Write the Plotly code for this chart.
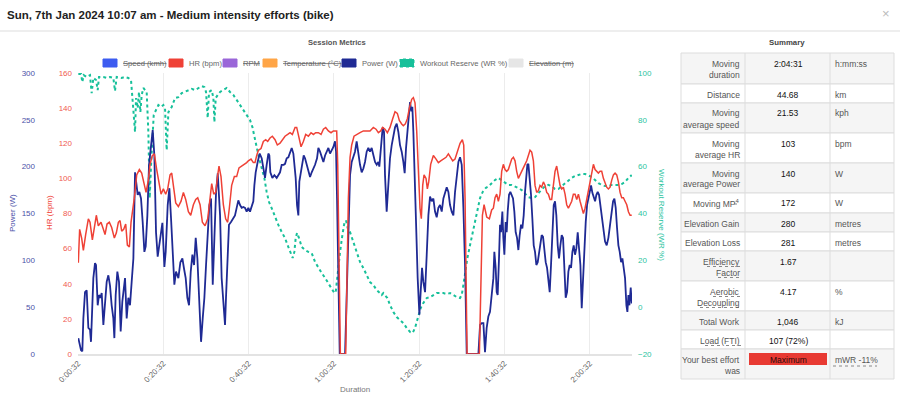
import plotly.graph_objects as go

# ---------------- data ----------------
power_time = [0.61,1.24,1.55,1.79,2.18,2.57,2.96,3.35,3.58,4.13,4.52,4.76,5.15,5.46,5.77,6.09,6.48,6.87,7.26,7.65,
              8.04,8.43,8.82,9.06,9.37,9.76,10.15,10.54,10.93,11.56,11.95,12.34,12.73,13.12,13.52,13.91,14.53,14.92,15.31,15.70,
              16.10,16.41,16.80,17.19,17.66,18.05,18.44,18.83,19.22,19.77,20.32,20.79,21.10,21.57,21.96,22.35,22.74,23.13,23.52,24.07,
              24.54,25.01,25.40,25.79,26.18,26.57,26.97,27.36,27.75,28.14,28.53,28.92,29.39,29.78,30.17,30.56,30.95,31.34,31.73,32.13,
              32.52,32.91,33.30,33.85,34.22,35.01,35.24,35.63,35.94,36.41,36.96,37.35,37.74,38.13,38.53,38.92,39.31,39.70,40.09,40.48,
              40.87,41.26,41.65,41.89,42.20,42.67,43.14,43.61,44.08,44.39,44.78,45.17,45.41,45.64,46.11,46.58,47.13,47.52,47.91,48.30,
              48.77,49.08,49.47,49.86,50.33,50.65,51.04,51.27,51.58,51.90,52.21,52.44,52.76,53.15,53.46,53.77,54.17,54.56,54.95,55.34,
              55.73,56.12,56.59,56.90,57.29,57.68,58.08,58.47,58.86,59.25,59.64,60.03,60.42,60.81,61.05,61.28,61.59,61.91,63.16,63.55,
              63.94,64.33,64.72,65.49,65.88,66.28,66.67,67.06,67.45,67.84,68.23,68.62,69.01,69.40,69.79,70.19,70.58,70.97,71.20,71.59,
              71.98,72.30,72.53,72.92,73.31,73.70,74.10,74.49,74.88,75.27,75.66,76.05,76.44,76.83,77.14,77.46,77.77,78.08,78.40,78.71,
              78.94,79.18,79.49,79.80,80.19,80.59,80.90,81.21,81.52,81.92,82.31,82.70,83.09,83.48,83.87,84.26,84.65,85.04,85.43,85.83,
              86.22,86.61,87.00,87.39,87.78,88.17,88.56,88.95,89.34,89.74,90.13,90.52,90.91,91.30,91.69,94.43,94.82,95.21,95.60,95.98,
              96.37,96.76,97.15,97.54,97.94,98.17,98.48,98.72,98.95,99.26,99.50,99.73,100.05,100.28,100.52,100.83,101.06,101.30,101.61,101.92,
              102.24,102.55,102.86,103.17,103.49,103.80,104.11,104.43,104.74,105.05,105.36,105.68,105.91,106.15,106.46,106.77,107.08,107.40,107.71,108.02,
              108.34,108.65,108.96,109.27,109.59,109.90,110.21,110.53,110.84,111.15,111.46,111.78,112.09,112.40,112.71,113.03,113.34,113.65,113.97,114.28,
              114.59,114.90,115.22,115.53,115.84,116.16,116.47,116.78,117.09,117.41,117.72,118.03,118.35,118.66,118.97,119.28,119.60,119.91,120.22,120.53,
              120.85,121.16,121.47,121.79,122.10,122.41,122.72,123.04,123.35,123.74,124.13,124.52,124.91,125.31,125.70,126.01,126.32,126.63,126.95,127.26,
              127.57,127.89,128.20,128.51,128.82,129.14,129.37,129.61,129.84,130.15,130.39]
power_w = [17,4,3,38,66,68,28,26,13,81,97,95,52,63,60,65,31,56,77,84,
           73,52,38,17,63,88,77,24,56,81,38,60,52,77,102,194,170,173,166,141,
           109,115,148,202,226,239,212,130,104,120,140,93,109,159,177,145,102,74,88,81,
           98,102,91,81,60,52,88,106,95,124,102,60,13,38,60,95,130,159,166,74,
           124,173,193,148,81,31,60,95,138,141,145,148,156,164,159,156,157,156,152,156,
           152,159,163,180,194,205,214,209,194,188,202,214,212,194,188,191,188,191,194,202,
           202,203,209,210,216,220,214,205,188,159,148,184,194,205,212,209,202,194,189,194,
           198,202,209,220,216,210,205,212,216,220,214,218,221,227,216,166,95,0,0,60,
           138,191,205,216,227,212,202,194,198,205,216,220,216,220,212,205,202,205,200,227,
           242,237,191,152,180,209,223,234,242,246,237,223,216,205,193,220,237,255,269,259,
           264,237,180,130,81,42,66,92,77,66,106,148,168,163,166,152,146,156,159,152,
           166,173,178,173,159,152,148,173,191,205,210,202,156,95,0,0,31,33,33,2,
           28,40,45,60,81,109,92,66,63,102,138,130,152,124,106,141,130,152,170,173,
           170,166,152,130,124,111,127,138,134,148,173,191,202,203,188,170,145,116,109,95,
           98,109,116,127,125,109,98,92,74,66,95,130,159,163,148,116,102,116,127,124,
           95,60,66,88,95,92,109,116,106,113,130,116,95,49,81,120,141,159,166,173,
           180,172,166,163,170,173,170,159,145,130,120,116,124,138,152,163,166,156,134,116,
           109,98,102,92,81,52,45,63,52,71,54]

hr_time = [0.61,0.92,1.39,1.79,2.33,2.96,3.35,3.90,4.37,4.83,5.30,5.93,6.48,6.87,7.34,7.88,8.43,9.06,9.53,10.00,
           10.39,10.78,11.25,11.72,12.11,12.58,12.97,13.36,13.75,14.30,14.92,15.47,16.02,16.49,17.03,17.42,17.97,18.44,18.99,19.54,
           20.01,20.55,21.10,21.57,22.12,22.51,22.98,23.45,24.07,24.70,25.25,25.79,26.42,26.97,27.59,28.14,28.61,29.16,29.70,30.33,
           30.95,31.50,31.89,32.36,32.83,33.30,33.60,34.07,34.62,35.16,35.63,36.02,36.57,37.20,37.74,38.29,38.92,39.54,40.09,40.48,
           41.11,41.65,42.04,42.44,42.83,43.45,44.00,44.55,45.02,45.56,46.11,46.74,47.28,47.91,48.46,49.08,49.71,50.26,50.80,51.43,
           51.82,52.21,52.84,53.38,53.93,54.56,55.18,55.73,56.28,56.90,57.53,58.08,58.62,59.25,59.87,60.42,61.20,61.44,61.75,62.06,
           63.31,63.63,63.94,64.33,64.72,65.26,65.88,66.67,67.45,68.23,69.01,69.79,70.42,70.97,71.51,71.98,72.53,73.08,73.70,74.33,
           74.88,75.42,75.89,76.44,76.83,77.30,77.77,78.24,78.79,79.18,79.57,79.96,80.35,80.74,81.05,81.37,81.68,82.15,82.46,82.78,
           83.24,83.87,84.50,85.04,85.59,86.22,86.84,87.39,87.94,88.41,88.95,89.50,90.13,90.67,90.99,91.30,91.53,91.77,94.66,94.97,
           95.37,95.76,96.38,97.01,97.54,97.94,98.33,98.72,99.11,99.50,99.89,100.28,100.67,101.06,101.45,101.85,102.24,102.63,103.02,103.41,
           103.80,104.19,104.58,104.97,105.36,105.76,106.15,106.54,106.93,107.32,107.71,108.10,108.49,108.88,109.27,109.67,110.06,110.45,110.84,111.23,
           111.62,112.01,112.40,112.79,113.18,113.58,113.97,114.36,114.75,115.14,115.53,115.92,116.31,116.70,117.09,117.49,117.88,118.27,118.66,119.05,
           119.44,119.83,120.22,120.61,121.00,121.40,121.79,122.18,122.57,122.96,123.35,123.74,124.13,124.52,124.91,125.31,125.70,126.09,126.48,126.87,
           127.26,127.65,128.04,128.43,128.82,129.22,129.61,130.00,130.39]
hr_bpm = [52,71,66,59,68,77,75,65,72,79,73,75,71,68,74,75,72,66,69,75,
          76,70,71,74,62,61,75,81,89,102,105,103,96,92,99,108,113,114,105,96,
          91,94,91,94,102,103,94,86,84,87,92,88,81,79,85,88,89,85,75,73,
          77,88,97,91,92,102,107,101,85,77,75,83,96,101,101,106,107,108,109,110,
          111,109,109,113,116,117,121,122,121,123,124,122,119,120,122,124,125,126,125,129,
          129,124,118,121,125,124,126,125,126,126,125,128,129,127,126,127,127,108,51,0,
          0,51,89,112,119,124,125,126,127,127,127,129,128,126,127,129,128,126,129,134,
          138,137,133,131,130,131,134,140,145,146,143,127,100,83,77,96,102,100,94,98,
          108,113,111,109,110,111,112,114,112,110,111,115,120,122,119,89,41,0,0,41,
          79,85,78,77,82,83,89,91,87,91,104,108,105,104,105,108,111,112,110,104,
          100,102,104,107,108,110,113,116,115,110,96,92,93,96,95,98,96,92,91,88,
          88,96,104,107,102,96,94,95,91,85,83,85,87,91,91,88,91,87,83,80,
          83,88,94,100,105,108,105,104,103,104,104,100,97,95,94,95,99,102,103,102,
          98,92,89,89,87,85,81,79,79]

wr_time = [0.61,1.24,1.55,1.86,2.57,3.35,3.74,4.13,4.76,5.15,5.46,6.48,7.26,8.04,8.82,9.21,9.61,10.78,11.56,12.34,
           12.97,13.28,13.52,13.91,14.14,14.53,14.84,15.16,15.47,15.86,16.25,16.64,17.03,17.35,17.66,17.97,18.29,18.60,18.99,19.38,
           20.01,20.55,20.94,21.33,21.73,22.51,23.29,24.07,24.85,25.64,26.42,27.20,27.98,28.76,29.55,30.17,30.56,30.95,31.26,31.89,
           32.28,32.52,32.83,33.30,33.85,34.62,35.40,36.18,36.96,37.74,38.53,39.31,40.09,40.87,41.42,41.89,42.44,42.98,43.61,44.23,
           44.78,45.33,45.95,46.74,47.52,48.30,49.08,49.86,50.49,50.88,51.27,51.58,51.90,52.37,52.99,53.77,54.56,55.34,56.12,56.90,
           57.68,58.47,59.25,60.03,60.66,60.97,61.44,61.99,62.53,63.00,63.39,63.78,64.32,65.10,65.88,66.67,67.45,68.23,69.01,69.79,
           70.58,71.36,71.75,72.14,72.53,73.08,73.70,74.49,75.27,76.05,76.83,77.61,78.40,79.02,79.57,79.96,80.35,80.90,81.52,82.31,
           83.09,83.87,84.65,85.43,86.22,87.00,87.78,88.56,89.34,90.13,90.52,90.91,91.30,91.85,92.47,93.10,93.65,94.19,94.82,95.44,
           96.20,96.76,97.54,98.33,99.11,99.89,100.67,101.45,102.24,103.02,103.80,104.58,105.36,106.15,106.93,107.71,108.49,109.27,110.06,110.84,
           111.62,112.40,113.18,113.97,114.75,115.53,116.31,117.09,117.88,118.66,119.44,120.22,121.00,121.79,122.57,123.35,124.13,124.91,125.70,126.48,
           127.26,128.04,128.82,129.61,130.39]
wr_pct = [99.6,99.6,96.1,99.1,98.3,99.1,91.4,97.9,97.0,92.7,98.3,98.3,97.9,98.3,97.9,92.3,98.3,97.9,98.3,97.9,
          97.0,90.6,85.0,74.8,89.3,85.0,91.9,83.3,90.6,93.6,92.7,91.9,74.8,46.6,60.7,74.8,82.0,83.3,85.0,86.3,
          85.5,86.3,85.0,67.1,83.3,85.5,89.3,89.7,91.4,91.9,92.7,93.2,92.7,93.6,94.4,94.0,91.9,80.8,91.9,92.7,
          89.3,79.0,89.3,90.6,91.9,92.7,93.6,91.9,90.6,88.5,86.3,84.2,82.0,79.9,77.0,72.7,68.0,63.7,59.4,55.2,
          49.2,44.9,42.3,38.5,35.1,32.1,29.5,25.7,22.3,21.0,23.6,29.5,31.7,29.5,25.7,24.4,23.6,23.1,19.3,16.7,
          14.6,12.5,10.3,8.2,6.0,6.5,15.0,23.6,30.8,35.9,37.0,33.8,32.1,27.8,23.6,19.3,16.7,13.7,10.7,9.5,
          7.3,6.0,5.2,6.0,5.2,3.9,0.9,-2.1,-4.2,-5.5,-6.8,-8.9,-10.6,-11.0,-8.9,-6.3,-3.3,-0.4,1.8,3.9,
          4.3,5.2,6.0,6.0,6.0,5.6,6.0,5.2,4.3,3.9,5.2,9.5,15.0,21.0,26.5,32.1,37.2,42.3,46.6,49.2,
          51.0,51.5,53.0,54.3,55.2,54.3,53.4,52.2,52.2,51.7,50.9,50.0,48.7,47.0,46.6,47.0,48.7,50.0,51.7,52.2,
          51.7,50.5,50.5,51.7,53.0,53.9,55.2,56.0,56.4,56.9,56.9,56.4,55.6,54.3,53.0,52.2,51.7,51.7,52.2,52.2,
          52.2,52.6,53.4,55.2,56.4]

tick_labels = ["0:00:32", "0:20:32", "0:40:32", "1:00:32", "1:20:32", "1:40:32", "2:00:32"]
legend_labels = ["Speed (kmh)", "HR (bpm)", "RPM", "Temperature (°C)", "Power (W)",
                 "Workout Reserve (WR %)", "Elevation (m)"]
legend_hidden = [True, False, True, True, False, False, True]

summary_labels = ["Moving\nduration", "Distance", "Moving\naverage speed", "Moving\naverage HR",
                  "Moving\naverage Power", "Moving MP<sup>4</sup>", "Elevation Gain", "Elevation Loss",
                  "Efficiency\nFactor", "Aerobic\nDecoupling", "Total Work", "Load (FTI)",
                  "Your best effort\nwas"]
summary_values = ["2:04:31", "44.68", "21.53", "103", "140", "172", "280", "281", "1.67", "4.17",
                  "1,046", "107 (72%)", "Maximum"]
summary_units = ["h:mm:ss", "km", "kph", "bpm", "W", "W", "metres", "metres", "", "%", "kJ", "", "mWR -11%"]

# ---------------- styling ----------------
W, H = 900, 396
FONT = "Liberation Sans, Arial, Helvetica, sans-serif"
C_HR = "#ef4136"
C_PW = "#1f2a94"
C_WR = "#17c09a"
legend_colors = ["#3d5cf0", C_HR, "#9a66d8", "#ffa547", C_PW, C_WR, "#e6e6e6"]


def px(x):
    return x / W


def py(y):
    return 1 - y / H


def to_min(label):
    h, m, s = [int(v) for v in label.split(":")]
    return h * 60 + m + s / 60


tick_vals = [to_min(t) for t in tick_labels]

X0, X1, Y0, Y1 = 78, 632, 73, 354

fig = go.Figure()
fig.add_trace(go.Scatter(x=wr_time, y=wr_pct, mode="lines", yaxis="y",
                         line=dict(color=C_WR, width=2, dash="3px,3px"), hoverinfo="skip"))
fig.add_trace(go.Scatter(x=power_time, y=power_w, mode="lines", yaxis="y2",
                         line=dict(color=C_PW, width=1.8), hoverinfo="skip"))
fig.add_trace(go.Scatter(x=hr_time, y=hr_bpm, mode="lines", yaxis="y3",
                         line=dict(color=C_HR, width=1.5), hoverinfo="skip"))

TICK = 8
fig.update_layout(
    width=W, height=H, margin=dict(l=0, r=0, t=0, b=0, pad=0, autoexpand=False),
    paper_bgcolor="white", plot_bgcolor="white", showlegend=False,
    font=dict(family=FONT),
    xaxis=dict(domain=[px(X0), px(X1)], range=[tick_vals[0], 130.45],
               tickvals=tick_vals, ticktext=tick_labels, tickangle=-45, automargin=False,
               tickfont=dict(family=FONT, size=TICK, color="#666"),
               showgrid=True, gridcolor="#ececec", gridwidth=1,
               showline=True, linecolor="#e3e3e3", linewidth=1.5,
               zeroline=False, ticks=""),
    yaxis=dict(domain=[py(Y1), py(Y0)], range=[-20, 100], dtick=20, tick0=0,
               side="right", anchor="x", showgrid=False, zeroline=False, automargin=False,
               tickfont=dict(family=FONT, size=TICK, color="#2cc49f"),
               ticklabelstandoff=5),
    yaxis2=dict(overlaying="y", range=[0, 300], dtick=50, tick0=0, automargin=False,
                side="left", anchor="free", position=px(35), showgrid=False, zeroline=False,
                tickfont=dict(family=FONT, size=TICK, color="#4a50a8")),
    yaxis3=dict(overlaying="y", range=[0, 160], dtick=20, tick0=0, automargin=False,
                side="left", anchor="x", showgrid=False, zeroline=False,
                tickfont=dict(family=FONT, size=TICK, color="#f05a50"),
                ticklabelstandoff=5),
)

shapes = []
annotations = []


def ann(text, x, y, size=9, color="#555", xanchor="center", yanchor="middle", **kw):
    annotations.append(dict(text=text, x=px(x), y=py(y), xref="paper", yref="paper",
                            showarrow=False, xanchor=xanchor, yanchor=yanchor,
                            font=dict(family=FONT, size=size, color=color), **kw))


# header
ann("<b>Sun, 7th Jan 2024 10:07 am - Medium intensity efforts (bike)</b>", 5, 15, size=11.5,
    color="#222", xanchor="left")
ann("×", 886, 13, size=13, color="#bbb")
shapes.append(dict(type="line", xref="paper", yref="paper", x0=0, x1=1, y0=py(31), y1=py(31),
                   line=dict(color="#eeeeee", width=2)))
ann("<b>Session Metrics</b>", 337, 42, size=7.6, color="#555")
ann("<b>Summary</b>", 787, 42, size=7.8, color="#444")

# legend
leg_x = [103, 169, 223, 263, 342, 400, 509]
for lx, lab, hid, col in zip(leg_x, legend_labels, legend_hidden, legend_colors):
    dash = "dot" if lab.startswith("Workout") else "solid"
    shapes.append(dict(type="rect", xref="paper", yref="paper", x0=px(lx), x1=px(lx + 14),
                       y0=py(67), y1=py(59), fillcolor=col,
                       line=dict(color=col, width=1, dash=dash)))
    txt = f"<s>{lab}</s>" if hid else lab
    ann(txt, lx + 17.5, 63.5, size=7.6, color="#666", xanchor="left")

# axis titles
ann("Power (W)", 12, 213, size=8, color="#4a50a8", textangle=-90)
ann("HR (bpm)", 49, 213, size=8, color=C_HR, textangle=-90)
ann("Workout Reserve (WR %)", 662, 215, size=8, color="#2cc49f", textangle=90)
ann("Duration", 355, 389, size=8, color="#777")

# summary table
row_tops = [53, 84, 103, 133, 163, 193, 213, 232, 251, 281, 311, 330, 349, 379]
TL, C1, C2, TR = 681, 745, 830, 894
for i in range(len(summary_labels)):
    top, bot = row_tops[i], row_tops[i + 1]
    fill = "#f5f5f5" if i % 2 == 0 else "white"
    shapes.append(dict(type="rect", xref="paper", yref="paper", x0=px(TL), x1=px(TR),
                       y0=py(bot), y1=py(top), fillcolor=fill, layer="below",
                       line=dict(color="#dddddd", width=1)))
    for j, line in enumerate(summary_labels[i].split("\n")):
        ann(line, 742, top + 10.5 + 11 * j, size=8.5, color="#555", xanchor="right")
    if summary_values[i] == "Maximum":
        shapes.append(dict(type="rect", xref="paper", yref="paper", x0=px(749), x1=px(827),
                           y0=py(365), y1=py(353), fillcolor="#e83a33",
                           line=dict(color="#e83a33", width=0)))
        ann(summary_values[i], 788, top + 10.5, size=8.5, color="#2a0a0a")
    else:
        ann(summary_values[i], 788, top + 10.5, size=8.5, color="#111")
    if summary_units[i]:
        ann(summary_units[i], 833, top + 10.5, size=8.5, color="#555", xanchor="left")
for cx in (C1, C2):
    shapes.append(dict(type="line", xref="paper", yref="paper", x0=px(cx), x1=px(cx),
                       y0=py(row_tops[-1]), y1=py(row_tops[0]), line=dict(color="#dddddd", width=1)))

# dotted underlines for abbreviations
for (ux0, ux1, uy) in [(707, 742, 266.5), (718, 742, 277.5), (713, 742, 296.5), (700, 742, 307.5),
                       (705, 723, 345.5), (726, 742, 345.5), (833, 877, 366), (734, 738, 204)]:
    shapes.append(dict(type="line", xref="paper", yref="paper", x0=px(ux0), x1=px(ux1),
                       y0=py(uy), y1=py(uy), line=dict(color="#888", width=1, dash="dot")))

fig.update_layout(shapes=shapes, annotations=annotations)
fig.write_html("out.html", config={"displayModeBar": False},
               post_script="document.body.style.margin='0';document.body.style.padding='0';")
